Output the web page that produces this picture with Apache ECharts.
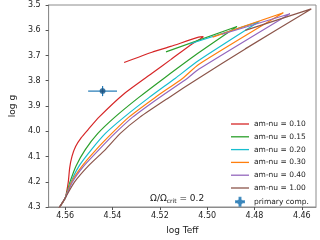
<!DOCTYPE html>
<html><head><meta charset="utf-8">
<script src="https://cdn.jsdelivr.net/npm/echarts@6/dist/echarts.min.js"></script>
<style>html,body{margin:0;padding:0;background:#fff}#c{width:320px;height:240px}</style>
</head><body><div id="c"></div>
<script>
const xTicks = [4.46, 4.48, 4.50, 4.52, 4.54, 4.56];
const amnu = ['0.10', '0.15', '0.20', '0.30', '0.40', '1.00'];
const colors = ['#d62728', '#2ca02c', '#17becf', '#ff7f0e', '#9467bd', '#8c564b'];
const track010 = [[4.5627,4.305],[4.5600,4.2647],[4.5587,4.2017],[4.5581,4.1450],[4.5571,4.0986],[4.5556,4.0600],[4.5532,4.0252],[4.5504,3.9943],[4.5457,3.9441],[4.5351,3.8514],[4.5233,3.7703],[4.5154,3.7163],[4.5064,3.6545],[4.5028,3.6332],[4.5016,3.6255],[4.5036,3.6274],[4.5154,3.6641],[4.5233,3.6873],[4.5351,3.7279]];
const track015 = [[4.5627,4.305],[4.5600,4.2647],[4.5580,4.2017],[4.5554,4.1372],[4.5515,4.0727],[4.5462,4.0086],[4.5390,3.9441],[4.5290,3.8669],[4.5182,3.7897],[4.5036,3.6892],[4.4874,3.5850],[4.5174,3.6854]];
const track020 = [[4.5627,4.305],[4.5600,4.2647],[4.5576,4.2017],[4.5541,4.1372],[4.5489,4.0727],[4.5430,4.0086],[4.5351,3.9441],[4.5246,3.8669],[4.5134,3.7897],[4.5036,3.7201],[4.4780,3.5657],[4.5075,3.6545]];
const track030 = [[4.5627,4.305],[4.5600,4.2647],[4.5574,4.2017],[4.5528,4.1372],[4.5469,4.0727],[4.5403,4.0086],[4.5331,3.9441],[4.5221,3.8669],[4.5103,3.7897],[4.5036,3.7356],[4.4678,3.5309],[4.4977,3.6274]];
const track040 = [[4.5627,4.305],[4.5600,4.2647],[4.5570,4.2017],[4.5521,4.1372],[4.5457,4.0727],[4.5390,4.0086],[4.5315,3.9441],[4.5203,3.8669],[4.5083,3.7897],[4.5036,3.7549],[4.4650,3.5348],[4.4937,3.6159]];
const track100 = [[4.5627,4.305],[4.5600,4.2647],[4.5561,4.2017],[4.5502,4.1372],[4.5430,4.0727],[4.5367,4.0086],[4.5284,3.9441],[4.5162,3.8669],[4.5036,3.7897],[4.4839,3.6738],[4.4560,3.5154],[4.4839,3.6004]];
const tracks = [track010, track015, track020, track030, track040, track100];
const primary = [4.5442, 3.841];
const primaryErr = [0.0061, 0.02];

const chart = echarts.init(document.getElementById('c'), null, {renderer: 'canvas'});
const font = 'DejaVu Sans';
const lineIcon = 'path://M0,0 L36,0 L36,2.6 L0,2.6 Z';
const series = tracks.map((t, i) => ({
  name: 'am-nu = ' + amnu[i], type: 'line', data: t, symbol: 'none', smooth: 0.2,
  lineStyle: {color: colors[i], width: 1.2}, itemStyle: {color: colors[i]}, clip: true, z: 2
}));
series.push({
  name: 'errbar', type: 'custom', data: [[primary[0], primary[1], primaryErr[0], primaryErr[1]]],
  renderItem: function (params, api) {
    const x = api.value(0), y = api.value(1), ex = api.value(2), ey = api.value(3);
    const a = api.coord([x - ex, y]), b = api.coord([x + ex, y]);
    const c = api.coord([x, y - ey]), d = api.coord([x, y + ey]);
    const st = {stroke: '#1f77b4', lineWidth: 1.2};
    return {type: 'group', children: [
      {type: 'line', shape: {x1: a[0], y1: a[1], x2: b[0], y2: b[1]}, style: st},
      {type: 'line', shape: {x1: c[0], y1: c[1], x2: d[0], y2: d[1]}, style: st}
    ]};
  }, z: 3, silent: true
});
series.push({
  name: 'primary comp.', type: 'scatter', data: [primary], symbol: 'circle', symbolSize: 5.5,
  itemStyle: {color: '#1d4f7c', borderColor: '#1f77b4', borderWidth: 0.5}, z: 4
});
const legendData = amnu.map((a, i) => ({name: 'am-nu = ' + a, icon: lineIcon, itemStyle: {color: colors[i]}}));
legendData.push({name: 'primary comp.', icon: 'path://M0,4.4 L10,4.4 L10,5.6 L0,5.6 Z M4.4,0 L5.6,0 L5.6,10 L4.4,10 Z M5,2.6 A2.4,2.4 0 1,0 5,7.4 A2.4,2.4 0 1,0 5,2.6 Z', itemStyle: {color: '#1d5f94'}});

chart.setOption({
  animation: false,
  backgroundColor: '#fff',
  grid: {left: 29, right: 4, top: 5, bottom: 28, show: true, borderColor: '#8c8c8c', borderWidth: 1},
  xAxis: {
    type: 'value', inverse: true, min: 4.454, max: 4.567,
    name: 'log Teff', nameLocation: 'middle', nameGap: 19,
    nameTextStyle: {fontFamily: font, fontSize: 9, color: '#222'},
    axisLine: {show: true, lineStyle: {color: '#8c8c8c'}},
    axisTick: {show: true, length: 3, customValues: xTicks, lineStyle: {color: '#555'}},
    axisLabel: {customValues: xTicks, formatter: v => v.toFixed(2), fontFamily: font, fontSize: 8, color: '#222', margin: 5},
    splitLine: {show: false}
  },
  yAxis: {
    type: 'value', inverse: true, min: 3.5, max: 4.3, interval: 0.1,
    name: 'log g', nameLocation: 'middle', nameGap: 22, nameRotate: 90,
    nameTextStyle: {fontFamily: font, fontSize: 9, color: '#222'},
    axisLine: {show: true, lineStyle: {color: '#8c8c8c'}},
    axisTick: {show: true, length: 3, lineStyle: {color: '#555'}},
    axisLabel: {formatter: v => v.toFixed(1), fontFamily: font, fontSize: 8, color: '#222', margin: 8},
    splitLine: {show: false}
  },
  legend: {
    orient: 'vertical', left: 231, top: 120, itemWidth: 18, itemHeight: 8, itemGap: 4.8,
    data: legendData, textStyle: {fontFamily: font, fontSize: 7.5, color: '#222'}, padding: 0
  },
  graphic: [{
    type: 'text', left: 150, top: 194,
    style: {text: 'Ω/Ω{s|crit} = 0.2', fontFamily: font, fontSize: 9, fill: '#222',
      rich: {s: {fontSize: 6, verticalAlign: 'bottom', padding: [5, 0, 0, 0], fontFamily: font, fill: '#222'}}}
  }],
  series: series
});
</script></body></html>
